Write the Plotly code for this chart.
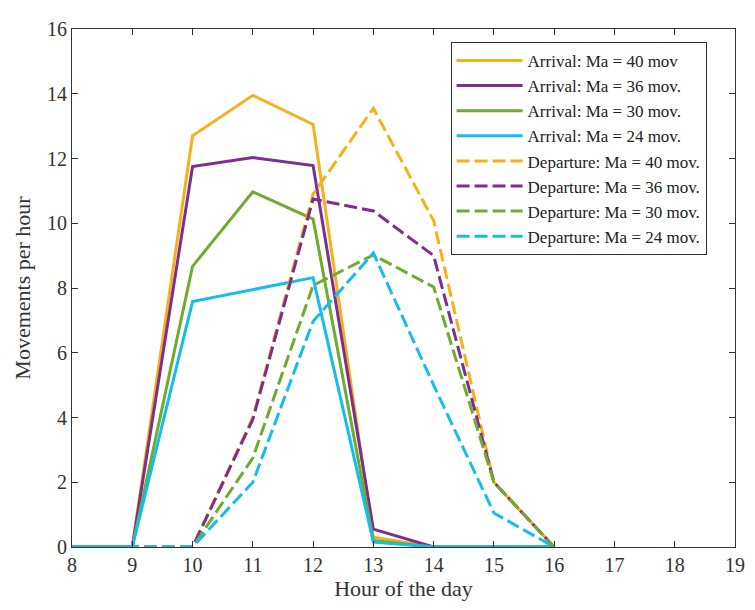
import plotly.graph_objects as go

hours = [8, 9, 10, 11, 12, 13, 14, 15, 16]

arr_40 = [0, 0, 12.7, 13.95, 13.05, 0.3, 0, 0, 0]
arr_36 = [0, 0, 11.75, 12.03, 11.78, 0.55, 0, 0, 0]
arr_30 = [0, 0, 8.67, 10.97, 10.13, 0.2, 0, 0, 0]
arr_24 = [0, 0, 7.58, 7.95, 8.32, 0.15, 0, 0, 0]

dep_40 = [0, 0, 0, 4.0, 10.9, 13.55, 10.08, 2.0, 0]
dep_36 = [0, 0, 0, 3.94, 10.75, 10.38, 9.0, 2.0, 0]
dep_30 = [0, 0, 0, 2.75, 8.08, 9.02, 8.03, 2.0, 0]
dep_24 = [0, 0, 0, 2.0, 6.97, 9.08, 5.0, 1.05, 0]

names_arr = ["Arrival: Ma = 40 mov", "Arrival: Ma = 36 mov.",
             "Arrival: Ma = 30 mov.", "Arrival: Ma = 24 mov."]
names_dep = ["Departure: Ma = 40 mov.", "Departure: Ma = 36 mov.",
             "Departure: Ma = 30 mov.", "Departure: Ma = 24 mov."]
colors = ["#F5B01A", "#7E2F8E", "#6EAB2E", "#14BDEB"]

fig = go.Figure()
for name, ys, c in zip(names_arr, [arr_40, arr_36, arr_30, arr_24], colors):
    fig.add_trace(go.Scatter(x=hours, y=ys, mode="lines", name=name,
                             line=dict(color=c, width=3)))
for name, ys, c in zip(names_dep, [dep_40, dep_36, dep_30, dep_24], colors):
    fig.add_trace(go.Scatter(x=hours, y=ys, mode="lines", name=name,
                             line=dict(color=c, width=3, dash="13px,5px")))

axis_common = dict(showline=True, linecolor="#333", linewidth=1, mirror="ticks",
                   ticks="inside", ticklen=6, tickcolor="#333", showgrid=False,
                   zeroline=False, tickfont=dict(size=20, color="#333"))

fig.update_layout(
    width=747, height=602,
    margin=dict(l=64, r=12, t=10, b=63),
    paper_bgcolor="white", plot_bgcolor="white",
    font=dict(family="Liberation Serif", color="#333"),
    xaxis=dict(range=[8, 19], tickvals=list(range(8, 20)),
               title=dict(text="Hour of the day", font=dict(size=22), standoff=4),
               **axis_common),
    yaxis=dict(range=[0, 16], tickvals=list(range(0, 17, 2)),
               title=dict(text="Movements per hour", font=dict(size=22), standoff=10),
               **axis_common),
    legend=dict(x=0.571, y=0.975, xanchor="left", yanchor="top",
                bgcolor="white", bordercolor="#333", borderwidth=1,
                font=dict(size=17, family="Liberation Serif", color="#222"),
                tracegroupgap=0, itemwidth=66),
    showlegend=True,
)

fig.write_html("out.html")
